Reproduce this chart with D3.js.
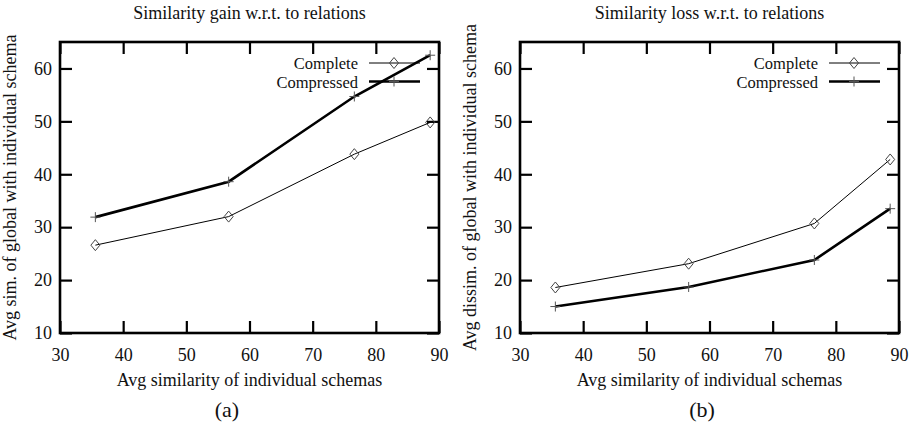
<!DOCTYPE html>
<html>
<head>
<meta charset="utf-8">
<script src="https://cdn.jsdelivr.net/npm/d3@7"></script>
<style>
  body { margin: 0; background: #fff; }
  svg text { font-family: "Liberation Serif", "Times New Roman", Times, serif; fill: #111; }
</style>
</head>
<body>
<div class="chart"></div>
<script>
// values
const xTicks = [30, 40, 50, 60, 70, 80, 90]
const yTicks = [10, 20, 30, 40, 50, 60]
const seriesNames = ["Complete", "Compressed"]

const gainX = [35.6, 56.7, 76.6, 88.6]
const gainComplete = [26.6, 32.0, 43.8, 49.8]
const gainCompressed = [31.9, 38.6, 54.7, 62.5]

const lossX = [35.6, 56.7, 76.6, 88.6]
const lossComplete = [18.6, 23.1, 30.7, 42.8]
const lossCompressed = [15.0, 18.7, 23.8, 33.5]

const panels = [
  { left: 60, title: "Similarity gain w.r.t. to relations", ylabel: "Avg sim. of global with individual schema",
    xs: gainX, complete: gainComplete, compressed: gainCompressed, tag: "(a)", tagX: 227 },
  { left: 520, title: "Similarity loss w.r.t. to relations", ylabel: "Avg dissim. of global with individual schema",
    xs: lossX, complete: lossComplete, compressed: lossCompressed, tag: "(b)", tagX: 702 }
]

const svg = d3.select(".chart").append("svg")
  .attr("width", 916)
  .attr("height", 430)

svg.append("rect").attr("width", 916).attr("height", 430).attr("fill", "#fff")

const plotTop = 42, plotBottom = 333, plotW = 379

const diamond = (g, cx, cy) => {
  g.append("path")
    .attr("d", `M${cx},${cy - 5.5}L${cx + 4.5},${cy}L${cx},${cy + 5.5}L${cx - 4.5},${cy}Z`)
    .attr("fill", "none").attr("stroke", "#444").attr("stroke-width", 1)
}
const plus = (g, cx, cy) => {
  g.append("path")
    .attr("d", `M${cx - 5},${cy}H${cx + 5}M${cx},${cy - 5}V${cy + 5}`)
    .attr("fill", "none").attr("stroke", "#555").attr("stroke-width", 1)
}

panels.forEach((p) => {
  const x = d3.scaleLinear().domain([30, 90]).range([p.left, p.left + plotW])
  const y = d3.scaleLinear().domain([10, 65]).range([plotBottom, plotTop])
  const g = svg.append("g")

  // axes, gnuplot style: ticks inward + mirrored
  const styleAxis = (a) => {
    a.select(".domain").remove()
    a.selectAll(".tick line").attr("stroke", "#000").attr("stroke-width", 2.2)
    a.selectAll(".tick text").attr("font-size", 18)
  }
  g.append("g").attr("transform", `translate(0,${plotBottom})`)
    .call(d3.axisBottom(x).tickValues(xTicks).tickSize(-12).tickPadding(15))
    .call(styleAxis)
  g.append("g").attr("transform", `translate(0,${plotTop})`)
    .call(d3.axisTop(x).tickValues(xTicks).tickSize(-12).tickFormat(""))
    .call(styleAxis)
  g.append("g").attr("transform", `translate(${p.left},0)`)
    .call(d3.axisLeft(y).tickValues(yTicks).tickSize(-12).tickPadding(8))
    .call(styleAxis)
  g.append("g").attr("transform", `translate(${p.left + plotW},0)`)
    .call(d3.axisRight(y).tickValues(yTicks).tickSize(-12).tickFormat(""))
    .call(styleAxis)

  g.append("rect")
    .attr("x", p.left).attr("y", plotTop)
    .attr("width", plotW).attr("height", plotBottom - plotTop)
    .attr("fill", "none").attr("stroke", "#000").attr("stroke-width", 2.6)

  // titles
  g.append("text").attr("x", p.left + plotW / 2).attr("y", 19)
    .attr("text-anchor", "middle").attr("font-size", 18).text(p.title)
  g.append("text").attr("x", p.left + plotW / 2).attr("y", 386)
    .attr("text-anchor", "middle").attr("font-size", 18).text("Avg similarity of individual schemas")
  g.append("text").attr("transform", `translate(${p.left - 44},${(plotTop + plotBottom) / 2}) rotate(-90)`)
    .attr("text-anchor", "middle").attr("font-size", 18).text(p.ylabel)
  g.append("text").attr("x", p.tagX).attr("y", 417)
    .attr("text-anchor", "middle").attr("font-size", 22).text(p.tag)

  // lines
  const line = d3.line().x((d) => x(d[0])).y((d) => y(d[1]))
  const comp = p.xs.map((v, i) => [v, p.complete[i]])
  const compr = p.xs.map((v, i) => [v, p.compressed[i]])

  g.append("path").datum(comp).attr("d", line)
    .attr("fill", "none").attr("stroke", "#000").attr("stroke-width", 1)
  g.append("path").datum(compr).attr("d", line)
    .attr("fill", "none").attr("stroke", "#000").attr("stroke-width", 2.6)
  comp.forEach((d) => diamond(g, x(d[0]), y(d[1])))
  compr.forEach((d) => plus(g, x(d[0]), y(d[1])))

  // legend
  const lx = p.left + 298
  seriesNames.forEach((name, i) => {
    const ly = 63 + i * 18.5
    g.append("text").attr("x", lx).attr("y", ly + 6)
      .attr("text-anchor", "end").attr("font-size", 16.5).text(name)
    g.append("line").attr("x1", lx + 11).attr("x2", lx + 62)
      .attr("y1", ly).attr("y2", ly)
      .attr("stroke", "#000").attr("stroke-width", i == 0 ? 1 : 2.6)
    if (i == 0) diamond(g, lx + 36, ly)
    else plus(g, lx + 36, ly)
  })
})
</script>
</body>
</html>
